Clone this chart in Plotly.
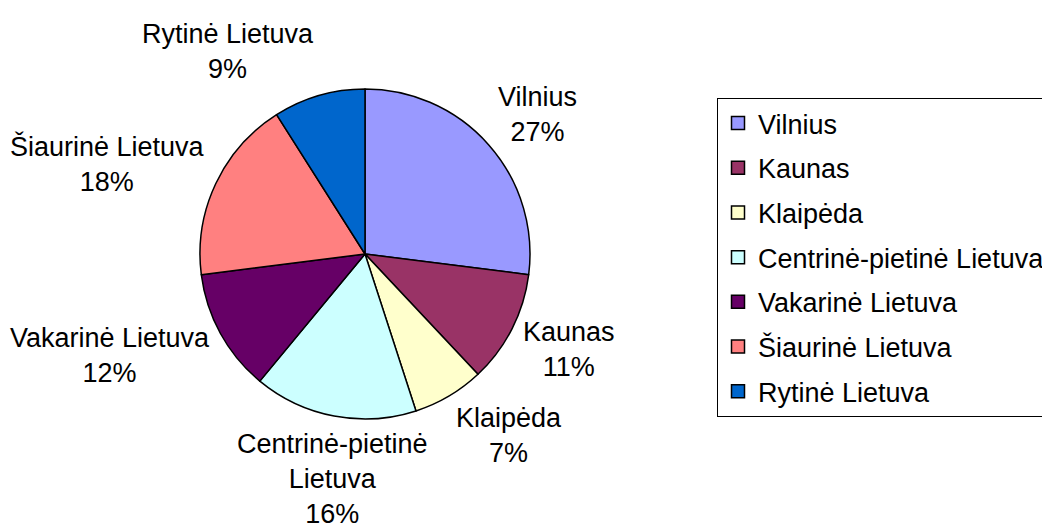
import math
import plotly.graph_objects as go

categories = ["Vilnius", "Kaunas", "Klaipėda", "Centrinė-pietinė Lietuva",
              "Vakarinė Lietuva", "Šiaurinė Lietuva", "Rytinė Lietuva"]
label_text = ["Vilnius", "Kaunas", "Klaipėda", "Centrinė-pietinė<br>Lietuva",
              "Vakarinė Lietuva", "Šiaurinė Lietuva", "Rytinė Lietuva"]
values = [27, 11, 7, 16, 12, 18, 9]
colors = ["#9999FF", "#993366", "#FFFFCC", "#CCFFFF", "#660066", "#FF8080", "#0066CC"]

W, H = 1050, 529
OFF = 8  # page body margin of the exported html
FONT = "Liberation Sans, Arial, sans-serif"
FS = 27
LINE = 36

# pie placement (pixels in the figure -> paper)
PIE_L, PIE_R, PIE_T, PIE_B = 200 - OFF, 530 - OFF, 89 - OFF, 419 - OFF
pie_dx = [PIE_L / W, PIE_R / W]
pie_dy = [1 - PIE_B / H, 1 - PIE_T / H]

fig = go.Figure()
fig.add_trace(go.Pie(
    labels=categories, values=values, sort=False, direction="clockwise", rotation=0,
    marker=dict(colors=colors, line=dict(color="black", width=1.5)),
    textinfo="none", hoverinfo="label+percent", showlegend=False,
    domain=dict(x=pie_dx, y=pie_dy),
))

# legend entries (one group each so that the spacing can be set)
for name, col in zip(categories, colors):
    fig.add_trace(go.Scatter(
        x=[None], y=[None], mode="markers", name=name, legendgroup=name,
        marker=dict(symbol="square", size=13, color=col, line=dict(color="black", width=1.5)),
        hoverinfo="skip",
    ))

# outside data labels positioned from the slice angles
cx = (PIE_L + PIE_R) / 2
cy_up = H - (PIE_T + PIE_B) / 2
R = min(PIE_R - PIE_L, PIE_B - PIE_T) / 2
GAP = 10
total = sum(values)
cum = 0
annotations = []
for txt, v in zip(label_text, values):
    mid = math.radians((cum + v / 2) / total * 360)
    cum += v
    s, c = math.sin(mid), math.cos(mid)
    pct = round(v / total * 100)
    full = f"{txt}<br>{pct}%"
    nlines = full.count("<br>") + 1
    px = cx + (R + GAP) * s
    py = cy_up + (R + GAP) * c + c * nlines * LINE / 2
    xa = "left" if s > 0.25 else ("right" if s < -0.25 else "center")
    annotations.append(dict(
        x=px / W, y=py / H, xref="paper", yref="paper",
        text=full, showarrow=False, xanchor=xa, yanchor="middle",
        align="center", font=dict(family=FONT, size=FS, color="black"),
    ))

fig.update_layout(
    width=W, height=H,
    margin=dict(l=0, r=0, t=0, b=0, pad=0, autoexpand=False),
    paper_bgcolor="white", plot_bgcolor="white",
    font=dict(family=FONT, size=FS, color="black"),
    xaxis=dict(visible=False), yaxis=dict(visible=False),
    annotations=annotations,
    legend=dict(
        x=(717 - OFF) / W, y=1 - (98 - OFF) / H, xanchor="left", yanchor="top",
        bordercolor="black", borderwidth=1, bgcolor="white",
        font=dict(family=FONT, size=FS, color="black"),
        tracegroupgap=6.6, itemwidth=30,
    ),
    showlegend=True,
)

fig.write_html("out.html")
